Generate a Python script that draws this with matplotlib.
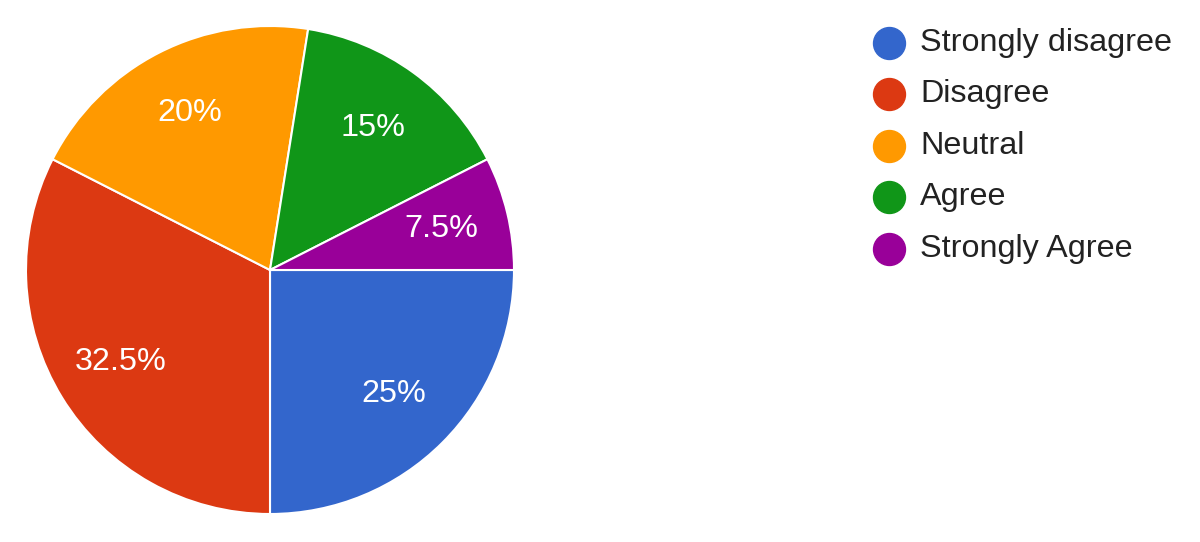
import matplotlib
matplotlib.use("Agg")
import matplotlib.pyplot as plt
from matplotlib.lines import Line2D
import numpy as np

categories = ["Strongly disagree", "Disagree", "Neutral", "Agree", "Strongly Agree"]
values = [25, 32.5, 20, 15, 7.5]
pct_labels = ["25%", "32.5%", "20%", "15%", "7.5%"]
colors = ["#3366cc", "#dc3912", "#ff9900", "#109618", "#990099"]

plt.rcParams['font.family'] = ['Liberation Sans', 'DejaVu Sans']

W, H = 1200, 542
fig = plt.figure(figsize=(W / 100, H / 100), dpi=100)
fig.patch.set_facecolor("white")

cx, cy, r = 270, 542 - 270, 244
ax = fig.add_axes([(cx - r) / W, (cy - r) / H, 2 * r / W, 2 * r / H])
wedges, texts = ax.pie(values, colors=colors, startangle=0, counterclock=False,
                       radius=1.0, wedgeprops=dict(edgecolor="white", linewidth=1.5))
total = sum(values)
ang = 0.0
for v, lab in zip(values, pct_labels):
    mid = ang - v / total * 360 / 2
    ang -= v / total * 360
    d = 0.72
    ax.text(d * np.cos(np.radians(mid)), d * np.sin(np.radians(mid)), lab,
            ha="center", va="center", color="white", fontsize=23.3)
ax.set_xlim(-1, 1)
ax.set_ylim(-1, 1)
ax.set_aspect("equal")
ax.axis("off")

# legend
lx_marker, lx_text = 889, 920
y0, dy = 43, 51.4
for i, (cat, col) in enumerate(zip(categories, colors)):
    yy = 1 - (y0 + i * dy) / H
    fig.add_artist(Line2D([lx_marker / W], [yy], marker="o", markersize=23,
                          markerfacecolor=col, markeredgecolor=col, linestyle="none",
                          transform=fig.transFigure))
    fig.text(lx_text / W, yy, cat, ha="left", va="center", fontsize=23.3, color="#222222")

fig.savefig("out.png", dpi=100, facecolor="white")
